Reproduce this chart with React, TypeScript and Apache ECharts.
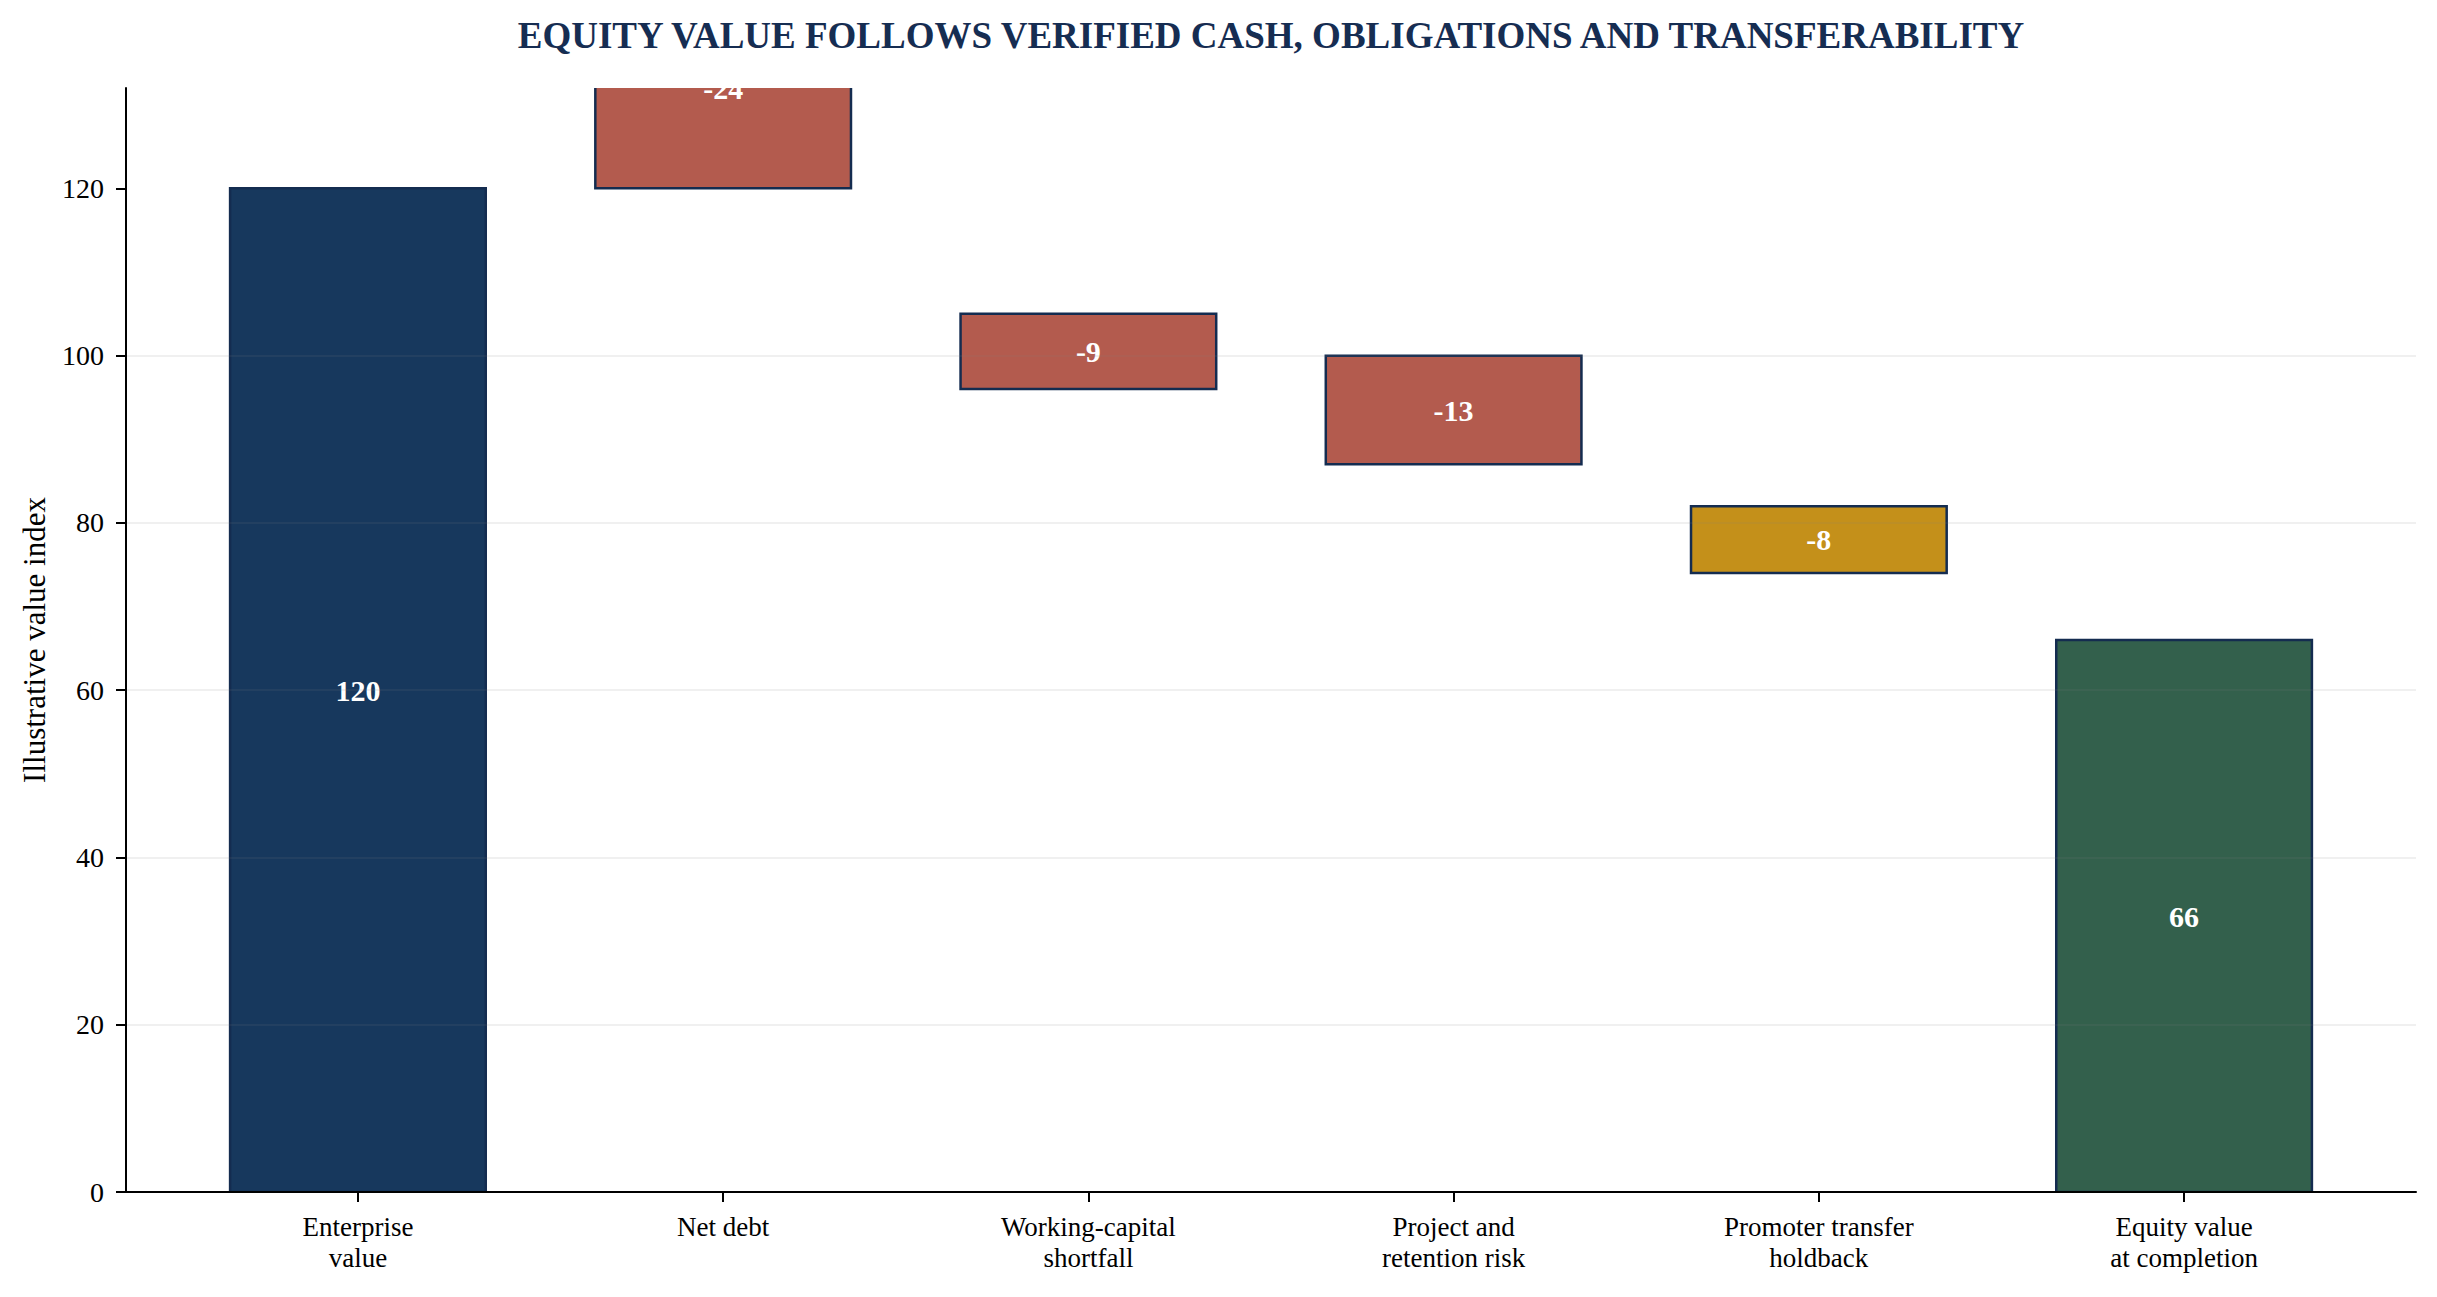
import { useEffect, useRef } from "react"
import * as echarts from "echarts"

// 瀑布图数据
const categories = [
  "Enterprise\nvalue",
  "Net debt",
  "Working-capital\nshortfall",
  "Project and\nretention risk",
  "Promoter transfer\nholdback",
  "Equity value\nat completion",
]
const changes = [120, -24, -9, -13, -8, 66]
const kinds = ["total", "step", "step", "step", "hold", "total"]
const yTicks = [0, 20, 40, 60, 80, 100, 120]

const fills: Record<string, string> = {
  total: "#17385d",
  step: "#b35b4e",
  hold: "#c4901a",
  end: "#33604c",
}
const edge = "#142c50"
const serif = '"Liberation Serif", "DejaVu Serif", serif'

export default function App() {
  const chartRef = useRef<HTMLDivElement>(null)

  useEffect(() => {
    if (!chartRef.current) return
    document.body.style.margin = "0"
    const chart = echarts.init(chartRef.current, null, { renderer: "svg" })

    // 每根柱子: [索引, 下沿, 上沿, 数值, 颜色]
    let running = 0
    const bars = changes.map((v, i) => {
      if (kinds[i] === "total") {
        running = v
        return [i, 0, v, v, i === changes.length - 1 ? fills.end : fills.total]
      }
      const lo = running
      running += v
      return [i, lo, lo + Math.abs(v), v, fills[kinds[i]]]
    })

    const option = {
      animation: false,
      backgroundColor: "#ffffff",
      graphic: [
        {
          type: "text",
          x: 1271,
          y: 35,
          style: {
            text: "EQUITY VALUE FOLLOWS VERIFIED CASH, OBLIGATIONS AND TRANSFERABILITY",
            fill: "#162d52",
            font: `bold 37px ${serif}`,
            align: "center",
            verticalAlign: "middle",
          },
        },
      ],
      grid: { left: 126, right: 21, top: 88, bottom: 105 },
      xAxis: {
        type: "value",
        min: -0.635,
        max: 5.635,
        z: 3,
        axisLine: { show: true, onZero: false, lineStyle: { color: "#000", width: 2 } },
        axisTick: {
          show: true,
          customValues: [0, 1, 2, 3, 4, 5],
          length: 10,
          lineStyle: { color: "#000", width: 2 },
        },
        axisLabel: {
          customValues: [0, 1, 2, 3, 4, 5],
          formatter: (v: number) => categories[Math.round(v)] ?? "",
          fontFamily: serif,
          fontSize: 27,
          lineHeight: 31,
          color: "#000",
          margin: 19,
        },
        splitLine: { show: false },
      },
      yAxis: {
        type: "value",
        min: 0,
        max: 132,
        interval: 20,
        z: 3,
        name: "Illustrative value index",
        nameLocation: "middle",
        nameGap: 76,
        nameTextStyle: { fontFamily: serif, fontSize: 31, color: "#000" },
        axisLine: { show: true, onZero: false, lineStyle: { color: "#000", width: 2 } },
        axisTick: {
          show: true,
          customValues: yTicks,
          length: 10,
          lineStyle: { color: "#000", width: 2 },
        },
        axisLabel: {
          customValues: yTicks,
          fontFamily: serif,
          fontSize: 28,
          color: "#000",
          margin: 22,
        },
        splitLine: {
          show: true,
          showMaxLine: false,
          lineStyle: { color: "rgba(128,128,128,0.16)", width: 1.6 },
        },
      },
      series: [
        {
          type: "custom",
          clip: true,
          encode: { x: 0, y: [1, 2] },
          data: bars,
          renderItem: (params: any, api: any) => {
            const i = api.value(0)
            const lo = api.value(1)
            const hi = api.value(2)
            const v = api.value(3)
            const color = bars[params.dataIndex][4] as string
            const p0 = api.coord([i - 0.35, hi])
            const p1 = api.coord([i + 0.35, lo])
            const mid = api.coord([i, (lo + hi) / 2])
            const cs = params.coordSys
            return {
              type: "group",
              clipPath: {
                type: "rect",
                shape: { x: cs.x, y: cs.y, width: cs.width, height: cs.height },
              },
              children: [
                {
                  type: "rect",
                  shape: { x: p0[0], y: p0[1], width: p1[0] - p0[0], height: p1[1] - p0[1] },
                  style: { fill: color, stroke: edge, lineWidth: 2.5 },
                },
                {
                  type: "text",
                  x: mid[0],
                  y: mid[1],
                  style: {
                    text: String(v),
                    fill: "#ffffff",
                    font: `bold 30px ${serif}`,
                    align: "center",
                    verticalAlign: "middle",
                  },
                },
              ],
            }
          },
        },
      ],
    }

    chart.setOption(option)

    return () => {
      chart.dispose()
    }
  }, [])

  return <div ref={chartRef} style={{ width: 2437, height: 1297 }} />
}
